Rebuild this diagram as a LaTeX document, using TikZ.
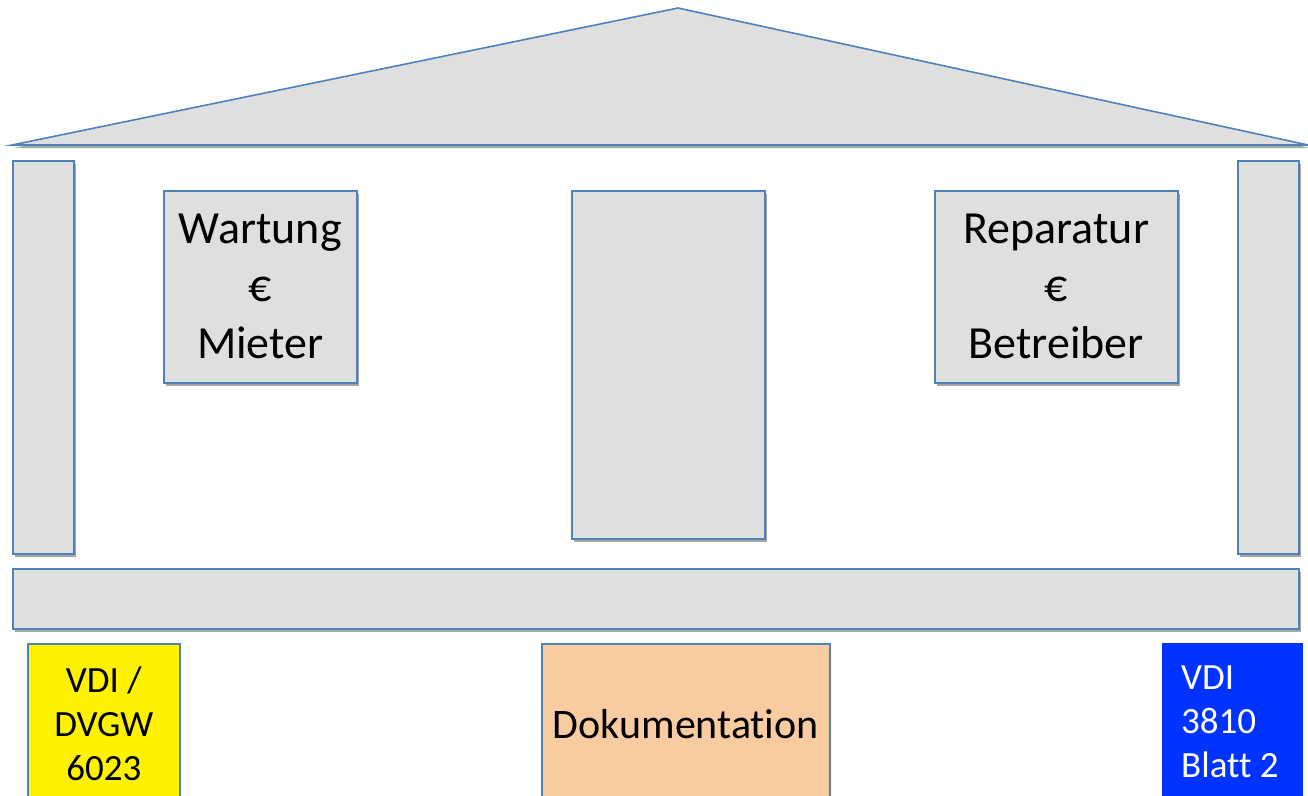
\documentclass[tikz,border=0pt]{standalone}
\usepackage{fontspec}
\setmainfont[Ligatures=CommonOff]{Carlito}
\usetikzlibrary{shadows}
\definecolor{edgeblue}{HTML}{4F81BD}
\definecolor{panelgray}{HTML}{DFDFDF}
\definecolor{docorange}{HTML}{F8CBA0}
\definecolor{normblue}{HTML}{0033FF}
\begin{document}
\begin{tikzpicture}[x=1pt,y=-1pt,
  shade/.style={drop shadow={shadow xshift=2pt,shadow yshift=-3pt,opacity=0.35,fill=black}},
  part/.style={draw=edgeblue,line width=1.6pt,fill=panelgray,shade,inner sep=0pt,anchor=north west},
  bigtext/.style={font=\fontsize{46}{57.5}\selectfont,align=center},
  normbox/.style={inner sep=0pt,anchor=north west,font=\fontsize{37}{44}\selectfont}
]
\useasboundingbox (0,0) rectangle (1308,795);
% roof
\coordinate (apex) at (678,8);
\coordinate (eaveL) at (12,145);
\coordinate (eaveR) at (1308,145);
\filldraw[draw=edgeblue,line width=1.6pt,fill=panelgray,shade,line join=miter] (eaveL) -- (apex) -- (eaveR) -- cycle;
% columns
\node[part,minimum width=61pt,minimum height=393pt] (colL) at (12,160) {};
\node[part,minimum width=61pt,minimum height=393pt] (colR) at (1237,160) {};
% windows and door
\node[part,minimum width=193pt,minimum height=192pt,bigtext] (wartung) at (163,190) {Wartung\\€\\Mieter};
\node[part,minimum width=193pt,minimum height=348pt] (door) at (571,190) {};
\node[part,minimum width=243pt,minimum height=192pt,bigtext] (reparatur) at (934,190) {Reparatur\\€\\Betreiber};
% base
\node[part,minimum width=1286pt,minimum height=60pt] (base) at (12,568) {};
% norms
\node[normbox,draw=edgeblue,line width=1.6pt,fill=yellow,minimum width=152pt,minimum height=160pt,align=center] (vdi) at (27,643) {VDI /\\DVGW\\6023};
\node[normbox,draw=edgeblue,line width=1.6pt,fill=docorange,minimum width=288pt,minimum height=160pt,font=\fontsize{42}{50}\selectfont] (doku) at (541,643) {Dokumentation};
\node[normbox,fill=normblue,minimum width=141pt,minimum height=160pt] (blatt) at (1162,643) {};
\node[font=\fontsize{37}{44}\selectfont,text=white,align=left,inner sep=0pt,anchor=west] (blatttext) at (1181,722) {VDI\\3810\\Blatt 2};
\end{tikzpicture}
\end{document}
